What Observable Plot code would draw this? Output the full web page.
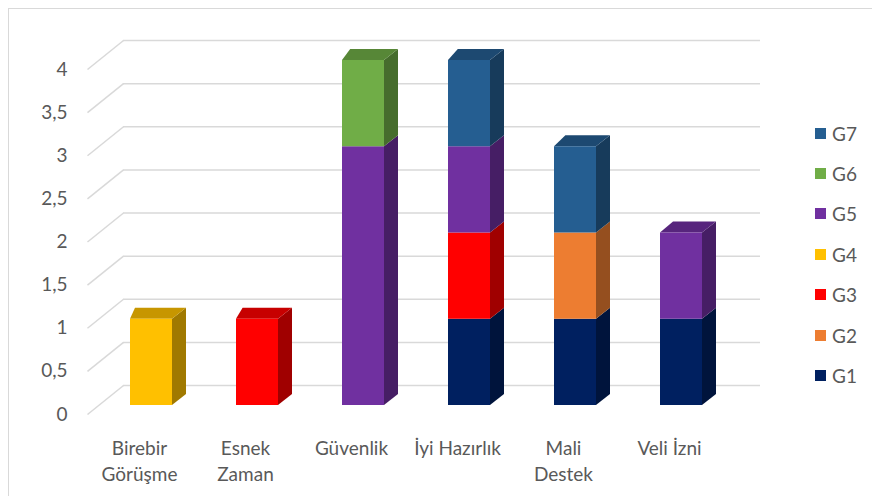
<!DOCTYPE html>
<html>
<head>
<meta charset="utf-8">
<script src="https://cdn.jsdelivr.net/npm/d3@7"></script>
<script src="https://cdn.jsdelivr.net/npm/@observablehq/plot@0.6"></script>
<style>
  html, body { margin: 0; padding: 0; background: #fff; overflow: hidden; }
  #wrap { position: relative; width: 872px; height: 496px; font-family: Lato, sans-serif; }
  #border { position: absolute; left: 8px; top: 8px; width: 900px; height: 600px; border: 1px solid #d9d9d9; box-sizing: border-box; }
  #chart { position: absolute; left: 0; top: 0; }
  #legend { position: absolute; left: 0; top: 0; }
  .item { position: absolute; display: flex; align-items: center; color: #595959; font-size: 19px; line-height: 1; }
  .sw { width: 11px; height: 11px; margin-right: 6px; }
</style>
</head>
<body>
<div id="wrap">
  <div id="border"></div>
  <div id="chart"></div>
  <div id="legend"></div>
</div>
<script>
const categories = ["Birebir\nGörüşme", "Esnek\nZaman", "Güvenlik", "İyi Hazırlık", "Mali\nDestek", "Veli İzni"];
const seriesNames = ["G1", "G2", "G3", "G4", "G5", "G6", "G7"];
const G1 = [0, 0, 0, 1, 1, 1];
const G2 = [0, 0, 0, 0, 1, 0];
const G3 = [0, 1, 0, 1, 0, 0];
const G4 = [1, 0, 0, 0, 0, 0];
const G5 = [0, 0, 3, 1, 0, 1];
const G6 = [0, 0, 1, 0, 0, 0];
const G7 = [0, 0, 0, 1, 1, 0];
const seriesColors = ["#002060", "#ED7D31", "#FF0000", "#FFC000", "#7030A0", "#70AD47", "#255E91"];
const yTicks = [0, 0.5, 1, 1.5, 2, 2.5, 3, 3.5, 4];

const seriesValues = [G1, G2, G3, G4, G5, G6, G7];

// geometry helpers (pixel -> data units)
const kx = 106, ky = 86.25;
const half = 21 / kx;
const dR = 14 / kx;
const e = 11 / ky;
const dL = i => (5 + 1.6 * i) / kx;

// stacked segments
const segments = [];
categories.forEach((c, i) => {
  let cum = 0;
  seriesValues.forEach((vals, s) => {
    const v = vals[i];
    if (v > 0) {
      segments.push({i, s, y1: cum, y2: cum + v, id: i + "-" + s, color: seriesColors[s]});
      cum += v;
    }
  });
});

const sideCol = c => d3.color(c).darker(1.3).formatHex();
const topCol = c => d3.color(c).darker(0.7).formatHex();

const sidePts = segments.flatMap(g => [
  {x: g.i + half, y1: g.y1, y2: g.y2, z: g.id, fill: sideCol(g.color)},
  {x: g.i + half + dR, y1: g.y1 + e, y2: g.y2 + e, z: g.id, fill: sideCol(g.color)}
]);

const tops = categories.map((c, i) => {
  const segs = segments.filter(g => g.i === i);
  return segs[segs.length - 1];
});
const topPts = tops.flatMap(g => {
  const xl = g.i - half, xr = g.i + half, yt = g.y2, f = topCol(g.color);
  return [
    {x: xl, y1: yt, y2: yt, z: g.id, fill: f},
    {x: xl + dL(g.i), y1: yt, y2: yt + e, z: g.id, fill: f},
    {x: xr, y1: yt, y2: yt + e, z: g.id, fill: f},
    {x: xr + dR, y1: yt + e, y2: yt + e, z: g.id, fill: f}
  ];
});

const xFront = (87 - 151) / kx, xBack = (123 - 151) / kx, xEnd = (760 - 151) / kx;

const chart = Plot.plot({
  width: 872,
  height: 496,
  marginLeft: 98,
  marginRight: 138,
  marginTop: 60,
  marginBottom: 91,
  style: {fontFamily: "Lato, sans-serif", fontSize: "19px", background: "transparent"},
  x: {type: "linear", domain: [-0.5, 5.5], label: null},
  y: {type: "linear", domain: [0, 4], label: null},
  color: {type: "identity"},
  marks: [
    Plot.ruleY(yTicks, {y: d => d, x1: xBack, x2: xEnd, dy: -20, stroke: "#d9d9d9", strokeWidth: 1.5}),
    Plot.link(yTicks, {x1: xFront, y1: d => d - 9 / ky, x2: xBack, y2: d => d + 20 / ky, stroke: "#d9d9d9", strokeWidth: 1.5}),
    Plot.axisY({ticks: yTicks, tickSize: 0, tickPadding: 31, dy: 9, label: null, tickFormat: d => String(d).replace(".", ","), fill: "#595959", fontSize: 19}),
    Plot.axisX({ticks: d3.range(categories.length), tickSize: 0, tickPadding: 31, dx: -12, label: null, tickFormat: i => categories[i], fill: "#595959", fontSize: 19, lineHeight: 1.37}),
    Plot.areaY(sidePts, {x: "x", y1: "y1", y2: "y2", z: "z", fill: "fill", curve: "linear"}),
    Plot.areaY(topPts, {x: "x", y1: "y1", y2: "y2", z: "z", fill: "fill", curve: "linear"}),
    Plot.rectY(segments, {x1: d => d.i - half, x2: d => d.i + half, y1: "y1", y2: "y2", fill: "color"})
  ]
});
document.getElementById("chart").appendChild(chart);

// legend
const legendCenters = [375, 335, 294, 254, 213, 173, 133]; // G1..G7
const legend = document.getElementById("legend");
seriesNames.forEach((name, s) => {
  const it = document.createElement("div");
  it.className = "item";
  it.style.left = "815px";
  it.style.top = (legendCenters[s] - 10) + "px";
  it.style.height = "20px";
  const sw = document.createElement("div");
  sw.className = "sw";
  sw.style.background = seriesColors[s];
  it.appendChild(sw);
  const t = document.createElement("span");
  t.textContent = name;
  it.appendChild(t);
  legend.appendChild(it);
});
</script>
</body>
</html>
